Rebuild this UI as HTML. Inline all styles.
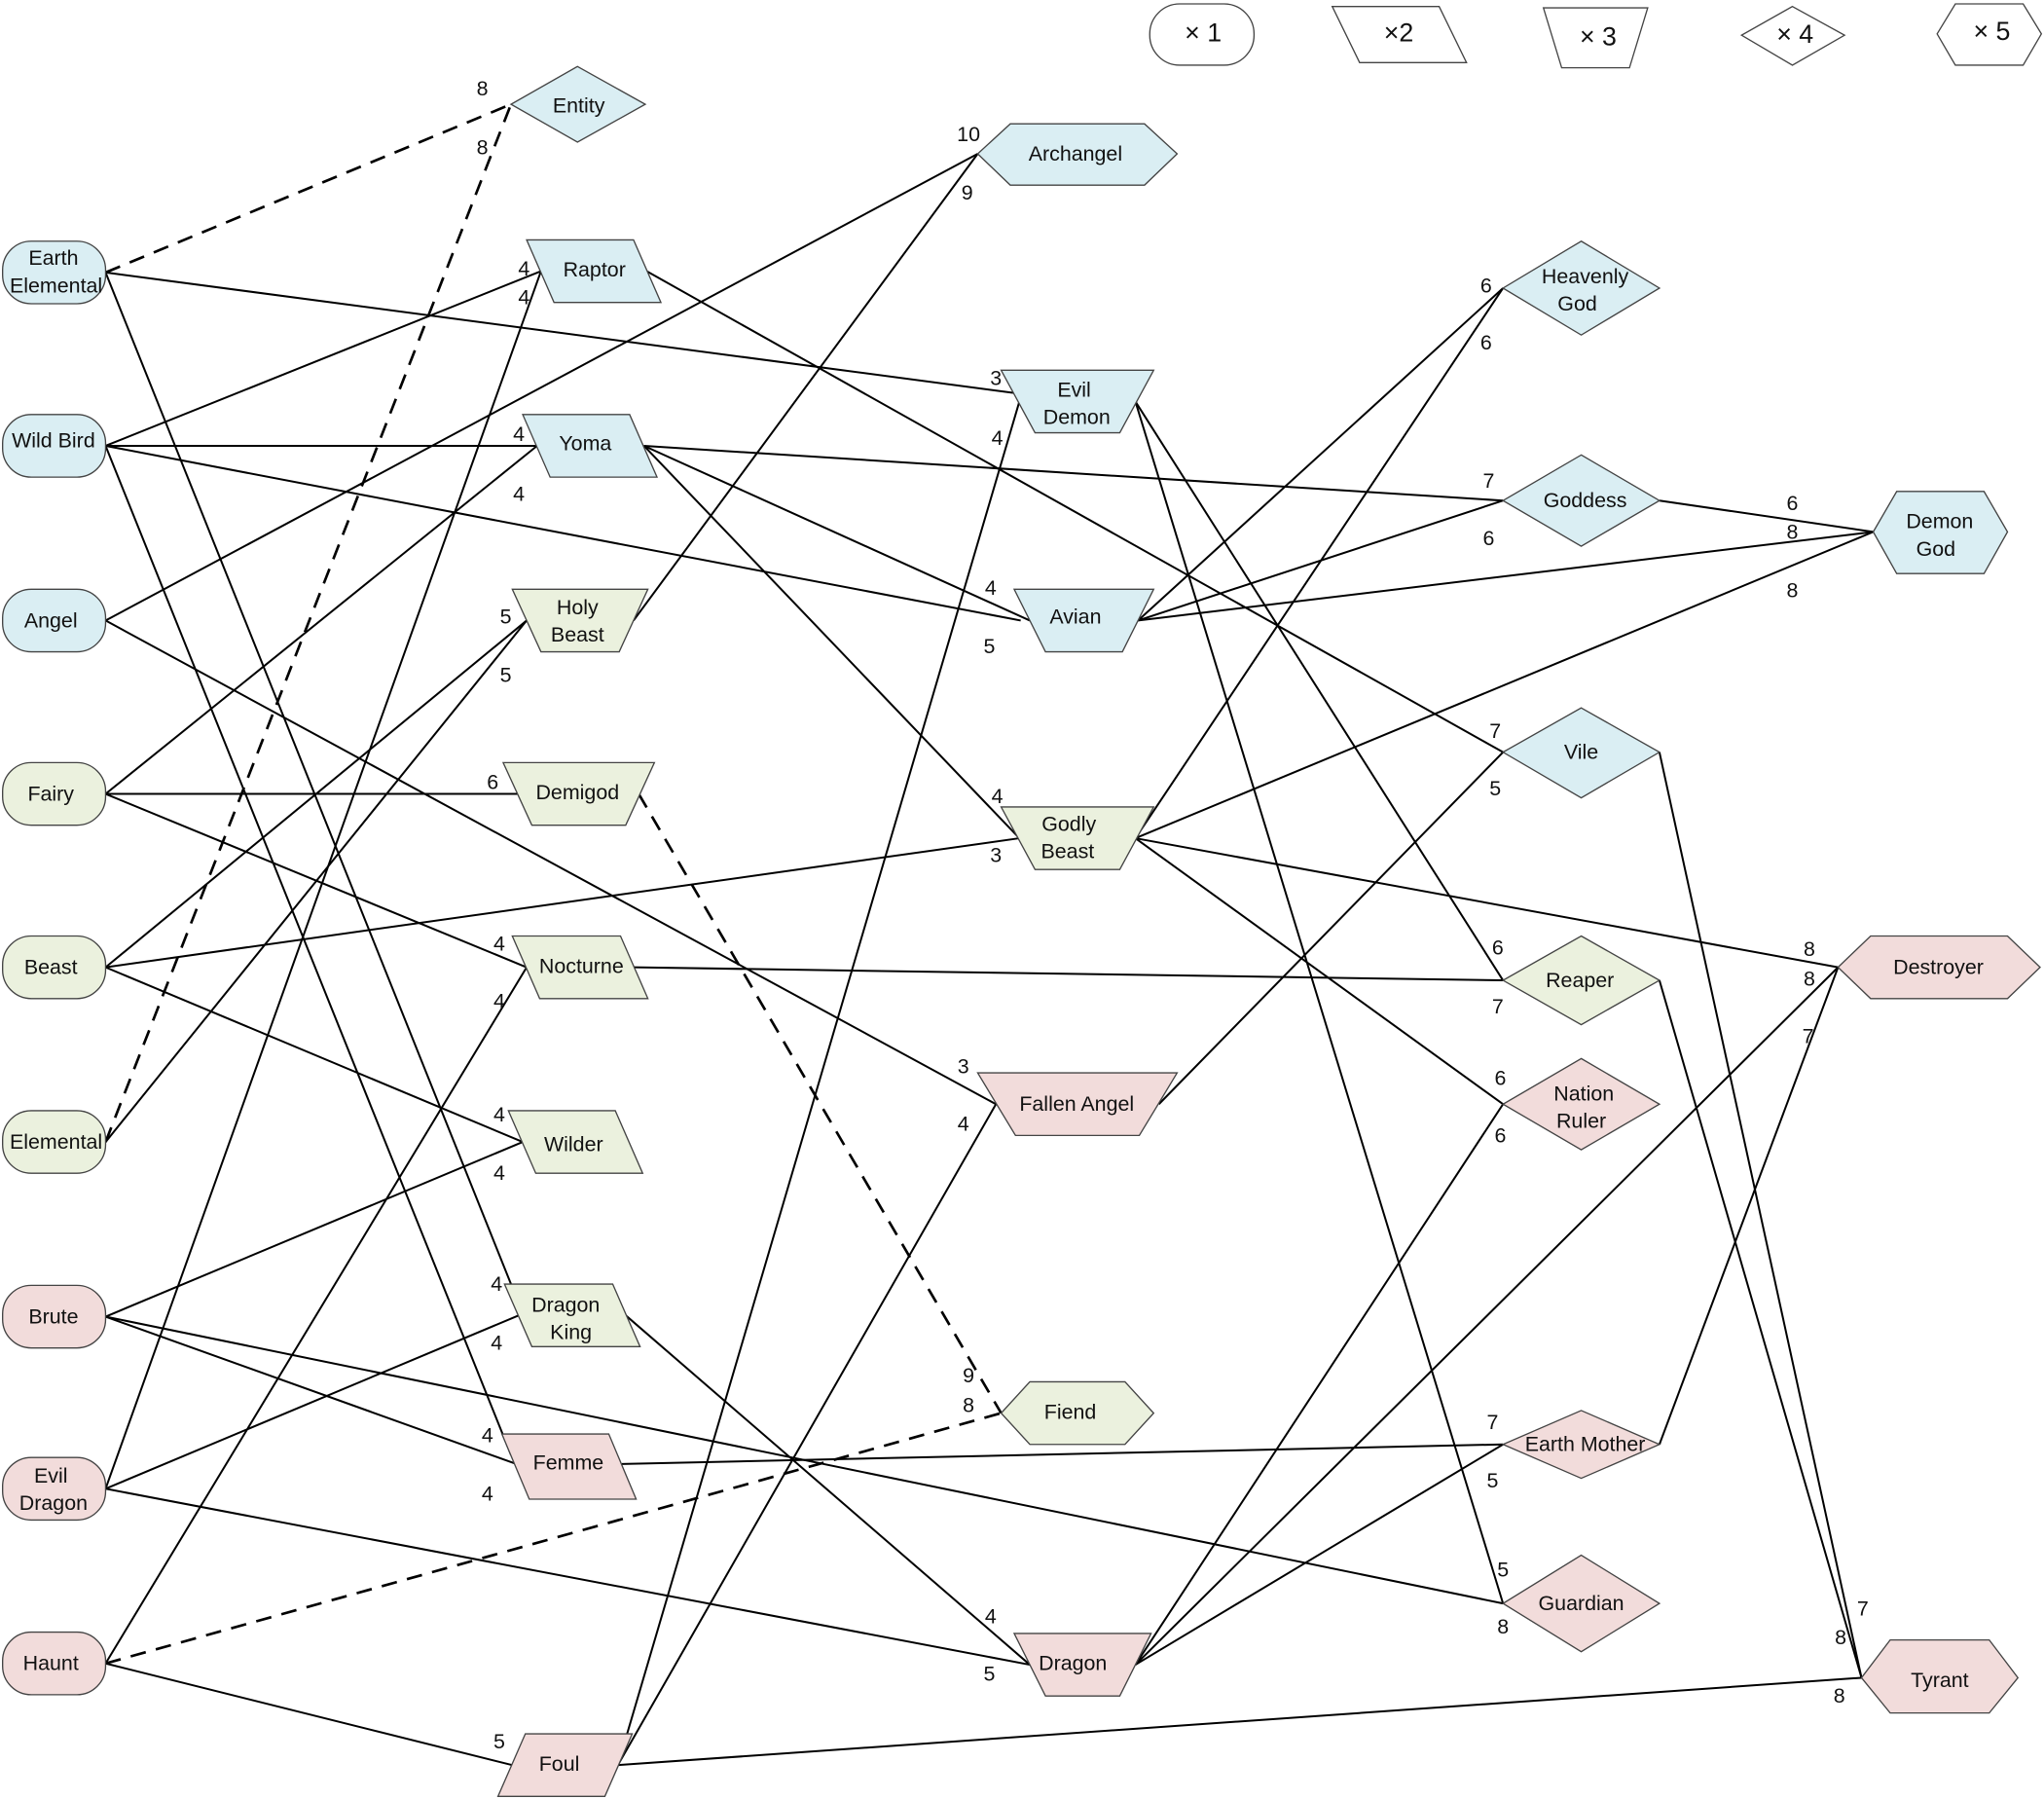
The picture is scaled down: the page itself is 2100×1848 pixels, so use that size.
<!DOCTYPE html>
<html><head><meta charset="utf-8"><style>
html,body{margin:0;padding:0;background:#fff;}
svg{display:block;}
text{font-family:"Liberation Sans",sans-serif;font-size:16px;fill:#111;text-anchor:middle;dominant-baseline:central;}
text.lg{font-size:20px;}
.n{stroke:#444;stroke-width:1;}
.b{fill:#daeef3}.g{fill:#ebf1de}.p{fill:#f2dcdb}.w{fill:#fff}
.e line{stroke:#000;stroke-width:1.5;}
.d line{stroke:#000;stroke-width:2;stroke-dasharray:12,8;}
</style></head><body>
<svg width="2100" height="1848" viewBox="0 0 1568 1380" preserveAspectRatio="none" xmlns="http://www.w3.org/2000/svg">
<g class="d">
<line x1="81" y1="209" x2="392" y2="80"/>
<line x1="81" y1="876" x2="392" y2="80"/>
<line x1="490" y1="609" x2="768" y2="1084"/>
<line x1="81" y1="1276" x2="768" y2="1084"/>
</g>
<g class="e">
<line x1="81" y1="209" x2="782" y2="302"/>
<line x1="81" y1="209" x2="398" y2="1000"/>
<line x1="81" y1="342" x2="415" y2="208"/>
<line x1="81" y1="342" x2="412" y2="342"/>
<line x1="81" y1="342" x2="783" y2="476"/>
<line x1="81" y1="342" x2="392" y2="1116"/>
<line x1="81" y1="476" x2="750" y2="118"/>
<line x1="81" y1="476" x2="764" y2="847"/>
<line x1="81" y1="609" x2="412" y2="342"/>
<line x1="81" y1="609" x2="398" y2="609"/>
<line x1="81" y1="609" x2="404" y2="742"/>
<line x1="81" y1="742" x2="404" y2="476"/>
<line x1="81" y1="742" x2="782" y2="643"/>
<line x1="81" y1="742" x2="401" y2="876"/>
<line x1="81" y1="876" x2="404" y2="476"/>
<line x1="81" y1="1010" x2="401" y2="876"/>
<line x1="81" y1="1010" x2="396" y2="1123"/>
<line x1="81" y1="1010" x2="1153" y2="1230"/>
<line x1="81" y1="1142" x2="415" y2="208"/>
<line x1="81" y1="1142" x2="398" y2="1009"/>
<line x1="81" y1="1142" x2="790" y2="1277"/>
<line x1="81" y1="1276" x2="404" y2="742"/>
<line x1="81" y1="1276" x2="393" y2="1354"/>
<line x1="496" y1="208" x2="1153" y2="577"/>
<line x1="494" y1="342" x2="1153" y2="384"/>
<line x1="494" y1="342" x2="790" y2="476"/>
<line x1="494" y1="342" x2="782" y2="643"/>
<line x1="486" y1="476" x2="750" y2="118"/>
<line x1="486" y1="742" x2="1153" y2="752"/>
<line x1="480" y1="1009" x2="790" y2="1277"/>
<line x1="477" y1="1123" x2="1153" y2="1108"/>
<line x1="474" y1="1354" x2="782" y2="308"/>
<line x1="474" y1="1354" x2="764" y2="847"/>
<line x1="474" y1="1354" x2="1428" y2="1287"/>
<line x1="871" y1="308" x2="1153" y2="752"/>
<line x1="871" y1="308" x2="1153" y2="1230"/>
<line x1="873" y1="476" x2="1153" y2="221"/>
<line x1="873" y1="476" x2="1153" y2="384"/>
<line x1="873" y1="476" x2="1437" y2="408"/>
<line x1="1273" y1="384" x2="1437" y2="408"/>
<line x1="871" y1="643" x2="1153" y2="221"/>
<line x1="871" y1="643" x2="1437" y2="408"/>
<line x1="871" y1="643" x2="1410" y2="742"/>
<line x1="871" y1="643" x2="1153" y2="847"/>
<line x1="889" y1="847" x2="1153" y2="577"/>
<line x1="871" y1="1277" x2="1153" y2="847"/>
<line x1="871" y1="1277" x2="1410" y2="742"/>
<line x1="871" y1="1277" x2="1153" y2="1108"/>
<line x1="1273" y1="1108" x2="1410" y2="742"/>
<line x1="1273" y1="577" x2="1428" y2="1287"/>
<line x1="1273" y1="752" x2="1428" y2="1287"/>
</g>

<!-- Legend -->
<rect class="n w" x="882" y="3" width="80" height="47" rx="23"/><text class="lg" x="923" y="25">× 1</text>
<polygon class="n w" points="1022,5 1104,5 1125,48 1043,48"/><text class="lg" x="1073" y="25">×2</text>
<polygon class="n w" points="1184,6 1264,6 1250,52 1198,52"/><text class="lg" x="1226" y="28">× 3</text>
<polygon class="n w" points="1375,5 1415,27 1375,50 1336,27"/><text class="lg" x="1377" y="26">× 4</text>
<polygon class="n w" points="1486,26 1500,3 1552,3 1566,26 1552,50 1500,50"/><text class="lg" x="1528" y="24">× 5</text>

<!-- Column 1 -->
<rect class="n b" x="2" y="185" width="79" height="48" rx="22"/><text x="41" y="198">Earth</text><text x="43" y="219">Elemental</text>
<rect class="n b" x="2" y="318" width="79" height="48" rx="22"/><text x="41" y="338">Wild Bird</text>
<rect class="n b" x="2" y="452" width="79" height="48" rx="22"/><text x="39" y="476">Angel</text>
<rect class="n g" x="2" y="585" width="79" height="48" rx="22"/><text x="39" y="609">Fairy</text>
<rect class="n g" x="2" y="718" width="79" height="48" rx="22"/><text x="39" y="742">Beast</text>
<rect class="n g" x="2" y="852" width="79" height="48" rx="22"/><text x="43" y="876">Elemental</text>
<rect class="n p" x="2" y="986" width="79" height="48" rx="22"/><text x="41" y="1010">Brute</text>
<rect class="n p" x="2" y="1118" width="79" height="48" rx="22"/><text x="39" y="1132">Evil</text><text x="41" y="1153">Dragon</text>
<rect class="n p" x="2" y="1252" width="79" height="48" rx="22"/><text x="39" y="1276">Haunt</text>

<!-- Column 2 -->
<polygon class="n b" points="443,51 495,80 443,109 392,80"/><text x="444" y="81">Entity</text>
<polygon class="n b" points="404,184 486,184 507,232 425,232"/><text x="456" y="207">Raptor</text>
<polygon class="n b" points="401,318 483,318 504,366 422,366"/><text x="449" y="340">Yoma</text>
<polygon class="n g" points="393,452 497,452 475,500 415,500"/><text x="443" y="466">Holy</text><text x="443" y="487">Beast</text>
<polygon class="n g" points="386,585 502,585 480,633 408,633"/><text x="443" y="608">Demigod</text>
<polygon class="n g" points="393,718 476,718 497,766 414,766"/><text x="446" y="741">Nocturne</text>
<polygon class="n g" points="390,852 472,852 493,900 411,900"/><text x="440" y="878">Wilder</text>
<polygon class="n g" points="387,985 470,985 491,1033 408,1033"/><text x="434" y="1001">Dragon</text><text x="438" y="1022">King</text>
<polygon class="n p" points="385,1100 467,1100 488,1150 406,1150"/><text x="436" y="1122">Femme</text>
<polygon class="n p" points="403,1330 485,1330 464,1378 382,1378"/><text x="429" y="1353">Foul</text>

<!-- Column 3 -->
<polygon class="n b" points="750,118 775,95 878,95 903,118 878,142 775,142"/><text x="825" y="118">Archangel</text>
<polygon class="n b" points="768,284 885,284 859,332 794,332"/><text x="824" y="299">Evil</text><text x="826" y="320">Demon</text>
<polygon class="n b" points="778,452 885,452 861,500 802,500"/><text x="825" y="473">Avian</text>
<polygon class="n g" points="768,619 885,619 859,667 794,667"/><text x="820" y="632">Godly</text><text x="819" y="653">Beast</text>
<polygon class="n p" points="750,823 903,823 874,871 779,871"/><text x="826" y="847">Fallen Angel</text>
<polygon class="n g" points="768,1084 790,1060 863,1060 885,1084 863,1108 790,1108"/><text x="821" y="1083">Fiend</text>
<polygon class="n p" points="778,1253 883,1253 859,1301 802,1301"/><text x="823" y="1276">Dragon</text>

<!-- Column 4 -->
<polygon class="n b" points="1213,185 1273,221 1213,257 1153,221"/><text x="1216" y="212">Heavenly</text><text x="1210" y="233">God</text>
<polygon class="n b" points="1213,349 1273,384 1213,419 1153,384"/><text x="1216" y="384">Goddess</text>
<polygon class="n b" points="1213,543 1273,577 1213,612 1153,577"/><text x="1213" y="577">Vile</text>
<polygon class="n g" points="1213,718 1273,752 1213,786 1153,752"/><text x="1212" y="752">Reaper</text>
<polygon class="n p" points="1213,812 1273,847 1213,882 1153,847"/><text x="1215" y="839">Nation</text><text x="1213" y="860">Ruler</text>
<polygon class="n p" points="1213,1082 1273,1108 1213,1134 1153,1108"/><text x="1216" y="1108">Earth Mother</text>
<polygon class="n p" points="1213,1193 1273,1230 1213,1267 1153,1230"/><text x="1213" y="1230">Guardian</text>

<!-- Column 5 -->
<polygon class="n b" points="1437,408 1455,377 1522,377 1540,408 1522,440 1455,440"/><text x="1488" y="400">Demon</text><text x="1485" y="421">God</text>
<polygon class="n p" points="1410,742 1435,718 1540,718 1565,742 1540,766 1435,766"/><text x="1487" y="742">Destroyer</text>
<polygon class="n p" points="1428,1287 1450,1258 1526,1258 1548,1287 1526,1314 1450,1314"/><text x="1488" y="1289">Tyrant</text>

<!-- edge labels -->
<g>
<text x="370" y="68">8</text><text x="370" y="113">8</text>
<text x="764" y="290">3</text><text x="381" y="985">4</text>
<text x="402" y="206">4</text><text x="398" y="333">4</text>
<text x="760" y="451">4</text><text x="374" y="1101">4</text>
<text x="402" y="228">4</text><text x="381" y="1030">4</text>
<text x="759" y="1284">5</text><text x="1147" y="561">7</text>
<text x="743" y="103">10</text><text x="739" y="818">3</text>
<text x="398" y="379">4</text><text x="378" y="600">6</text>
<text x="383" y="724">4</text><text x="388" y="473">5</text>
<text x="764" y="656">3</text><text x="383" y="855">4</text>
<text x="388" y="518">5</text><text x="383" y="900">4</text>
<text x="374" y="1146">4</text><text x="1153" y="1248">8</text>
<text x="743" y="1078">8</text><text x="383" y="1336">5</text>
<text x="383" y="768">4</text><text x="1142" y="369">7</text>
<text x="759" y="496">5</text><text x="765" y="611">4</text>
<text x="742" y="148">9</text><text x="743" y="1055">9</text>
<text x="1149" y="772">7</text><text x="760" y="1240">4</text>
<text x="1145" y="1091">7</text><text x="765" y="336">4</text>
<text x="739" y="862">4</text><text x="1411" y="1301">8</text>
<text x="1149" y="727">6</text><text x="1153" y="1204">5</text>
<text x="1140" y="219">6</text><text x="1142" y="413">6</text>
<text x="1375" y="408">8</text><text x="1375" y="386">6</text>
<text x="1140" y="263">6</text><text x="1375" y="453">8</text>
<text x="1388" y="728">8</text><text x="1151" y="827">6</text>
<text x="1147" y="605">5</text><text x="1151" y="871">6</text>
<text x="1388" y="751">8</text><text x="1145" y="1136">5</text>
<text x="1387" y="795">7</text><text x="1429" y="1234">7</text>
<text x="1412" y="1256">8</text>
</g>
</svg>
</body></html>
